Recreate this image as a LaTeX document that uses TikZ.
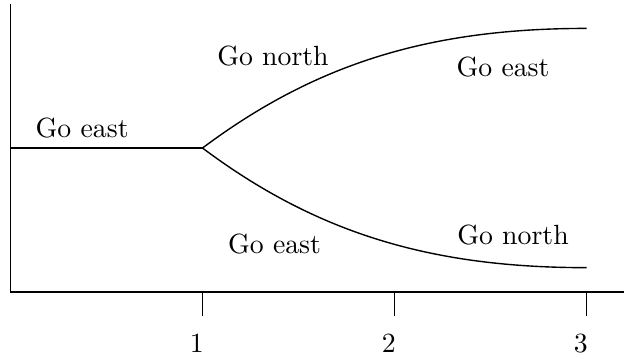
\documentclass[tikz,border=0pt]{standalone}
\begin{document}
\begin{tikzpicture}[x=2.43cm, y=2.43cm, line width=0.5pt,
  lbl/.style={anchor=base, inner sep=0pt}]
  \useasboundingbox (-0.0547,-0.344) rectangle (3.195,1.521);
  % axes
  \coordinate (origin) at (0,0);
  \coordinate (ytop) at (0,1.5);
  \coordinate (xend) at (3.195,0);
  \draw (ytop) -- (origin) -- (xend);
  \foreach \i in {1,2,3} {
    \coordinate (tick\i) at (\i,0);
    \draw (tick\i) -- ++(0,-0.125);
    \node[lbl] (num\i) at (\i-0.03,-0.3125) {\i};
  }
  % paths
  \coordinate (start) at (0,0.75);
  \coordinate (fork) at (1,0.75);
  \coordinate (upper) at (3,1.373);
  \coordinate (lower) at (3,0.127);
  \draw (start) -- (fork);
  \draw (fork) .. controls (1.6,1.199) and (2.2,1.373) .. (upper);
  \draw (fork) .. controls (1.6,0.301) and (2.2,0.127) .. (lower);
  \node[lbl] (eastA) at (0.373,0.807) {Go east};
  \node[lbl] (northA) at (1.367,1.182) {Go north};
  \node[lbl] (eastB) at (2.565,1.125) {Go east};
  \node[lbl] (eastC) at (1.375,0.203) {Go east};
  \node[lbl] (northB) at (2.617,0.245) {Go north};
\end{tikzpicture}
\end{document}
